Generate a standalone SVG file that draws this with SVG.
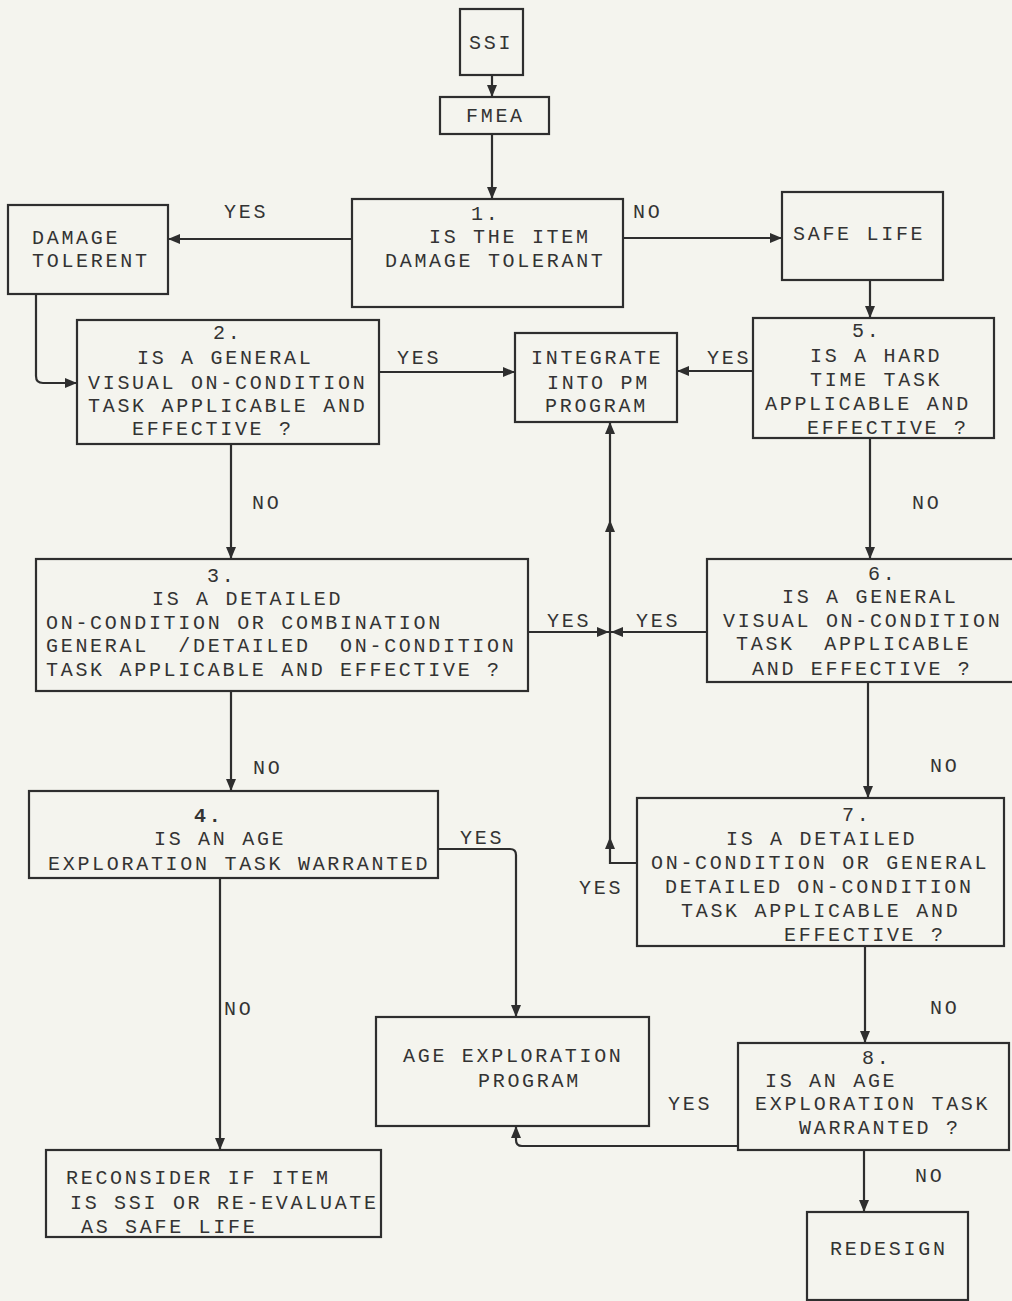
<svg xmlns="http://www.w3.org/2000/svg" width="1012" height="1301" viewBox="0 0 1012 1301">
<style>
.bg{fill:#f4f4ee}
.box{fill:#f4f4ee;stroke:#2e2e2e;stroke-width:2.2}
text{font-family:"Liberation Mono","DejaVu Sans Mono",monospace;font-size:20px;letter-spacing:2.7px;fill:#333;white-space:pre}
.c{fill:none;stroke:#2e2e2e;stroke-width:2.2}
</style>
<defs>
<marker id="ah" markerUnits="userSpaceOnUse" markerWidth="12" markerHeight="12" viewBox="0 0 12 12" refX="12" refY="6" orient="auto">
<path d="M0,1 L12,6 L0,11 z" fill="#2e2e2e"/>
</marker>
</defs>
<rect class="bg" x="0" y="0" width="1012" height="1301"/>

<g id="connectors">
<path class="c" d="M492,75 V97" marker-end="url(#ah)"/>
<path class="c" d="M492,134 V199" marker-end="url(#ah)"/>
<path class="c" d="M352,239 H168" marker-end="url(#ah)"/>
<path class="c" d="M623,238 H782" marker-end="url(#ah)"/>
<path class="c" d="M36,294 V376 Q36,383 43,383 H77" marker-end="url(#ah)"/>
<path class="c" d="M870,280 V318" marker-end="url(#ah)"/>
<path class="c" d="M379,372 H515" marker-end="url(#ah)"/>
<path class="c" d="M753,371 H677" marker-end="url(#ah)"/>
<path class="c" d="M231,444 V559" marker-end="url(#ah)"/>
<path class="c" d="M870,438 V559" marker-end="url(#ah)"/>
<path class="c" d="M528,632 H609" marker-end="url(#ah)"/>
<path class="c" d="M707,632 H611" marker-end="url(#ah)"/>
<path class="c" d="M637,863 H610 V837" marker-end="url(#ah)"/>
<path class="c" d="M610,837 V520" marker-end="url(#ah)"/>
<path class="c" d="M610,520 V422" marker-end="url(#ah)"/>
<path class="c" d="M231,691 V791" marker-end="url(#ah)"/>
<path class="c" d="M868,682 V798" marker-end="url(#ah)"/>
<path class="c" d="M438,849 H510 Q516,849 516,855 V1017" marker-end="url(#ah)"/>
<path class="c" d="M220,878 V1150" marker-end="url(#ah)"/>
<path class="c" d="M865,946 V1043" marker-end="url(#ah)"/>
<path class="c" d="M738,1146 H522 Q516,1146 516,1140 V1126" marker-end="url(#ah)"/>
<path class="c" d="M864,1150 V1212" marker-end="url(#ah)"/>
</g>

<g id="labels">
<text x="224" y="218">YES</text>
<text x="633" y="218">NO</text>
<text x="397" y="364">YES</text>
<text x="707" y="364">YES</text>
<text x="252" y="509">NO</text>
<text x="912" y="509">NO</text>
<text x="547" y="627">YES</text>
<text x="636" y="627">YES</text>
<text x="253" y="774">NO</text>
<text x="930" y="772">NO</text>
<text x="460" y="844">YES</text>
<text x="579" y="894">YES</text>
<text x="224" y="1015">NO</text>
<text x="930" y="1014">NO</text>
<text x="668" y="1110">YES</text>
<text x="915" y="1182">NO</text>
</g>

<g id="ssi">
<rect class="box" x="460" y="9" width="63" height="66"/>
<text x="469" y="49">SSI</text>
</g>
<g id="fmea">
<rect class="box" x="440" y="97" width="109" height="37"/>
<text x="466" y="122">FMEA</text>
</g>
<g id="q1">
<rect class="box" x="352" y="199" width="271" height="108"/>
<text x="471" y="220">1.</text>
<text x="429" y="243">IS THE ITEM</text>
<text x="385" y="267">DAMAGE TOLERANT</text>
</g>
<g id="damage-tolerent">
<rect class="box" x="8" y="205" width="160" height="89"/>
<text x="32" y="244">DAMAGE</text>
<text x="32" y="267">TOLERENT</text>
</g>
<g id="safe-life">
<rect class="box" x="782" y="192" width="161" height="88"/>
<text x="793" y="240">SAFE LIFE</text>
</g>
<g id="q2">
<rect class="box" x="77" y="320" width="302" height="124"/>
<text x="213" y="339">2.</text>
<text x="137" y="364">IS A GENERAL</text>
<text x="88" y="389">VISUAL ON-CONDITION</text>
<text x="88" y="412">TASK APPLICABLE AND</text>
<text x="132" y="435">EFFECTIVE ?</text>
</g>
<g id="integrate">
<rect class="box" x="515" y="333" width="162" height="89"/>
<text x="531" y="364">INTEGRATE</text>
<text x="547" y="389">INTO PM</text>
<text x="545" y="412">PROGRAM</text>
</g>
<g id="q5">
<rect class="box" x="753" y="318" width="241" height="120"/>
<text x="852" y="337">5.</text>
<text x="810" y="362">IS A HARD</text>
<text x="810" y="386">TIME TASK</text>
<text x="765" y="410">APPLICABLE AND</text>
<text x="807" y="434">EFFECTIVE ?</text>
</g>
<g id="q3">
<rect class="box" x="36" y="559" width="492" height="132"/>
<text x="207" y="582">3.</text>
<text x="152" y="605">IS A DETAILED</text>
<text x="46" y="629">ON-CONDITION OR COMBINATION</text>
<text x="46" y="652">GENERAL  /DETAILED  ON-CONDITION</text>
<text x="46" y="676">TASK APPLICABLE AND EFFECTIVE ?</text>
</g>
<g id="q6">
<rect class="box" x="707" y="559" width="310" height="123"/>
<text x="868" y="580">6.</text>
<text x="782" y="603">IS A GENERAL</text>
<text x="723" y="627">VISUAL ON-CONDITION</text>
<text x="736" y="650">TASK  APPLICABLE</text>
<text x="752" y="675">AND EFFECTIVE ?</text>
</g>
<g id="q4">
<rect class="box" x="29" y="791" width="409" height="87"/>
<text x="194" y="822" font-weight="bold">4.</text>
<text x="154" y="845">IS AN AGE</text>
<text x="48" y="870">EXPLORATION TASK WARRANTED</text>
</g>
<g id="q7">
<rect class="box" x="637" y="798" width="367" height="148"/>
<text x="842" y="821">7.</text>
<text x="726" y="845">IS A DETAILED</text>
<text x="651" y="869">ON-CONDITION OR GENERAL</text>
<text x="665" y="893">DETAILED ON-CONDITION</text>
<text x="681" y="917">TASK APPLICABLE AND</text>
<text x="784" y="941">EFFECTIVE ?</text>
</g>
<g id="age-exploration">
<rect class="box" x="376" y="1017" width="273" height="109"/>
<text x="403" y="1062">AGE EXPLORATION</text>
<text x="478" y="1087">PROGRAM</text>
</g>
<g id="q8">
<rect class="box" x="738" y="1043" width="271" height="107"/>
<text x="862" y="1064">8.</text>
<text x="765" y="1087">IS AN AGE</text>
<text x="755" y="1110">EXPLORATION TASK</text>
<text x="799" y="1134">WARRANTED ?</text>
</g>
<g id="reconsider">
<rect class="box" x="46" y="1150" width="335" height="87"/>
<text x="66" y="1184">RECONSIDER IF ITEM</text>
<text x="70" y="1209">IS SSI OR RE-EVALUATE</text>
<text x="81" y="1233">AS SAFE LIFE</text>
</g>
<g id="redesign">
<rect class="box" x="807" y="1212" width="161" height="88"/>
<text x="830" y="1255">REDESIGN</text>
</g>
</svg>
